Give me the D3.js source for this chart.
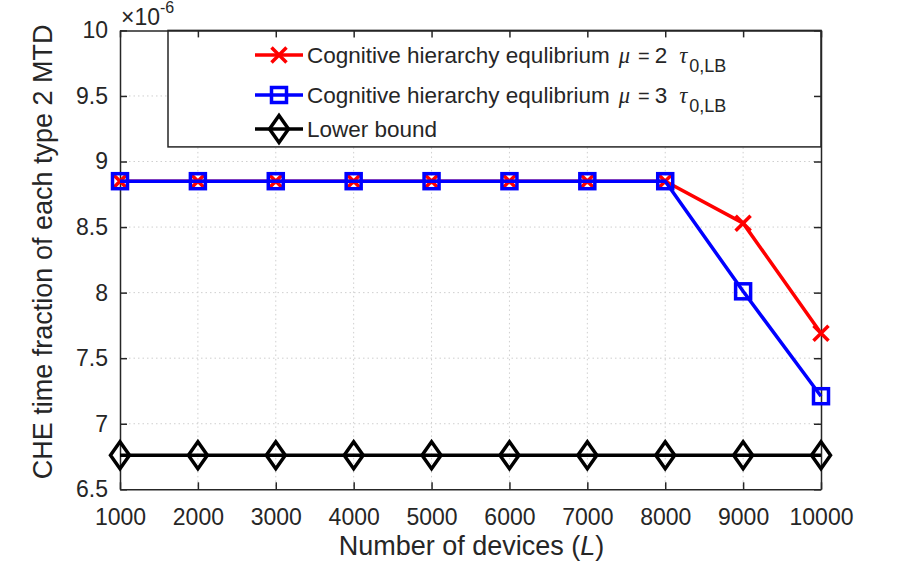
<!DOCTYPE html>
<html>
<head>
<meta charset="utf-8">
<script src="https://cdn.jsdelivr.net/npm/d3@7"></script>
<style>
  body { margin: 0; background: #fff; }
  text { font-family: "Liberation Sans", Arial, sans-serif; fill: #262626; }
</style>
</head>
<body>
<div class="chart-container"></div>
<script>
// Chart data
const devices = [1000, 2000, 3000, 4000, 5000, 6000, 7000, 8000, 9000, 10000];
const cheMu2 = [8.85, 8.85, 8.85, 8.85, 8.85, 8.85, 8.85, 8.85, 8.53, 7.69];
const cheMu3 = [8.85, 8.85, 8.85, 8.85, 8.85, 8.85, 8.85, 8.85, 8.01, 7.21];
const lowerBound = [6.76, 6.76, 6.76, 6.76, 6.76, 6.76, 6.76, 6.76, 6.76, 6.76];
const yTicks = [6.5, 7, 7.5, 8, 8.5, 9, 9.5, 10];
const seriesNames = ["Cognitive hierarchy equlibrium", "Cognitive hierarchy equlibrium", "Lower bound"];
const seriesMu = ["2", "3", null];

const w = 905, h = 563;
const margin = { left: 120, right: 84, top: 30.4, bottom: 73.7 };
const axisColor = "#262626";
const serif = "'Liberation Serif', 'Times New Roman', serif";

const svg = d3.select(".chart-container").append("svg")
    .attr("width", w)
    .attr("height", h);

const xScale = d3.scaleLinear().domain([1000, 10000]).range([margin.left, w - margin.right]);
const yScale = d3.scaleLinear().domain([6.5, 10]).range([h - margin.bottom, margin.top]);

// Grid
const grid = svg.append("g").attr("stroke", "#cfcfcf").attr("stroke-width", 1).attr("stroke-dasharray", "1.5,3");
grid.selectAll(".vx").data(devices.slice(1, -1)).enter().append("line")
    .attr("x1", d => xScale(d)).attr("x2", d => xScale(d))
    .attr("y1", yScale(10)).attr("y2", yScale(6.5));
grid.selectAll(".hy").data(yTicks.slice(1, -1)).enter().append("line")
    .attr("x1", xScale(1000)).attr("x2", xScale(10000))
    .attr("y1", d => yScale(d)).attr("y2", d => yScale(d));

// Legend box (covers grid)
const legend = svg.append("g").attr("id", "legend");
legend.append("rect")
    .attr("x", 168).attr("y", yScale(10))
    .attr("width", xScale(10000) - 168).attr("height", 116.5)
    .attr("fill", "#fff").attr("stroke", axisColor).attr("stroke-width", 1.5);

// Axes
function styleAxis(g) {
    g.selectAll("path.domain").attr("stroke", axisColor).attr("stroke-width", 1.5);
    g.selectAll(".tick line").attr("stroke", axisColor).attr("stroke-width", 1.5);
    g.selectAll(".tick text").attr("fill", axisColor).style("font-size", "23px")
        .style("font-family", "'Liberation Sans', Arial, sans-serif");
}
svg.append("g").attr("transform", `translate(0,${yScale(6.5)})`)
    .call(d3.axisBottom(xScale).tickValues(devices).tickFormat(d3.format("d")).tickSize(-7).tickSizeOuter(0).tickPadding(19))
    .call(styleAxis);
svg.append("g").attr("transform", `translate(0,${yScale(10)})`)
    .call(d3.axisTop(xScale).tickValues(devices).tickFormat("").tickSize(-7).tickSizeOuter(0))
    .call(styleAxis);
svg.append("g").attr("transform", `translate(${xScale(1000)},0)`)
    .call(d3.axisLeft(yScale).tickValues(yTicks).tickFormat(d3.format("")).tickSize(-7).tickSizeOuter(0).tickPadding(12))
    .call(styleAxis);
svg.append("g").attr("transform", `translate(${xScale(10000)},0)`)
    .call(d3.axisRight(yScale).tickValues(yTicks).tickFormat("").tickSize(-7).tickSizeOuter(0))
    .call(styleAxis);

// Exponent label
const expo = svg.append("text").attr("x", 121).attr("y", 25).style("font-size", "23px");
expo.append("tspan").text("×10");
expo.append("tspan").attr("dy", -12).style("font-size", "16px").text("-6");

// Axis labels
const xl = svg.append("text")
    .attr("x", (xScale(1000) + xScale(10000)) / 2 + 1)
    .attr("y", 555)
    .attr("text-anchor", "middle")
    .style("font-size", "27px");
xl.append("tspan").text("Number of devices (");
xl.append("tspan").style("font-style", "italic").text("L");
xl.append("tspan").text(")");

svg.append("text")
    .attr("transform", `translate(52,${(yScale(6.5) + yScale(10)) / 2 - 8}) rotate(-90)`)
    .attr("text-anchor", "middle")
    .style("font-size", "27px")
    .text("CHE time fraction of each type 2 MTD");

// Marker shapes
const lw = 3.5;
function drawMarker(g, kind, color, cx, cy) {
    if (kind === "x") {
        const s = 7.5;
        g.append("path")
            .attr("d", `M${cx - s},${cy - s}L${cx + s},${cy + s}M${cx - s},${cy + s}L${cx + s},${cy - s}`)
            .attr("stroke", color).attr("stroke-width", lw).attr("fill", "none");
    } else if (kind === "square") {
        const s = 7.5;
        g.append("rect").attr("x", cx - s).attr("y", cy - s).attr("width", 2 * s).attr("height", 2 * s)
            .attr("stroke", color).attr("stroke-width", lw).attr("fill", "none");
    } else {
        const sx = 9.5, sy = 13.5;
        g.append("path")
            .attr("d", `M${cx},${cy - sy}L${cx + sx},${cy}L${cx},${cy + sy}L${cx - sx},${cy}Z`)
            .attr("stroke", color).attr("stroke-width", lw).attr("fill", "none");
    }
}

const series = [
    { values: cheMu2, color: "#ff0000", marker: "x" },
    { values: cheMu3, color: "#0000ff", marker: "square" },
    { values: lowerBound, color: "#000000", marker: "diamond" }
];

const line = d3.line().x((d, i) => xScale(devices[i])).y(d => yScale(d));
series.forEach(s => {
    const g = svg.append("g");
    g.append("path").datum(s.values)
        .attr("d", line).attr("fill", "none")
        .attr("stroke", s.color).attr("stroke-width", lw);
    s.values.forEach((v, i) => drawMarker(g, s.marker, s.color, xScale(devices[i]), yScale(v)));
});

// Legend entries
const rowY = [55, 95, 129];
series.forEach((s, i) => {
    const y = rowY[i];
    legend.append("line").attr("x1", 255).attr("x2", 303).attr("y1", y).attr("y2", y)
        .attr("stroke", s.color).attr("stroke-width", lw);
    drawMarker(legend, s.marker, s.color, 279, y);
    const t = legend.append("text").attr("x", 307).attr("y", y + 8).style("font-size", "22.5px");
    t.append("tspan").text(seriesNames[i]);
    if (seriesMu[i]) {
        t.append("tspan").attr("dx", 9).style("font-family", serif)
            .style("font-style", "italic").text("μ");
        t.append("tspan").attr("dx", 8).style("font-size", "20px").text("=");
        t.append("tspan").attr("dx", 5).text(seriesMu[i]);
        t.append("tspan").attr("dx", 12).style("font-family", serif)
            .style("font-style", "italic").text("τ");
        t.append("tspan").attr("dx", 2).attr("dy", 9).style("font-size", "18px").text("0,LB");
    }
});
</script>
</body>
</html>
